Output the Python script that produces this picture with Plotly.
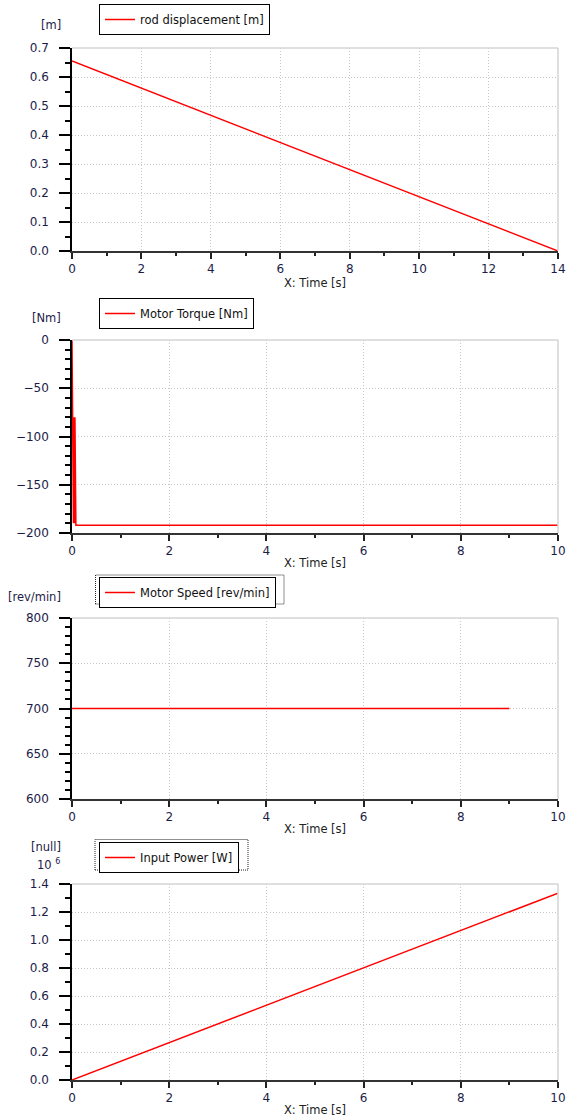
import plotly.graph_objects as go

W, H = 566, 1118

# ---- data ----
rod_t = [0, 14]
rod_disp = [0.655, 0.0]

torque_t = [0, 0.02, 0.03, 0.04, 0.045, 0.05, 0.055, 0.06, 0.065, 0.07, 0.075, 0.08, 10]
torque_v = [0, -185, -190, -80, -190, -80, -190, -80, -190, -80, -192, -192, -192]

speed_t = [0, 9]
speed_v = [700, 700]

power_t = [0, 10]
power_w = [0, 1.335e6]
power_scaled = [p / 1e6 for p in power_w]

names = ["rod displacement [m]", "Motor Torque [Nm]", "Motor Speed [rev/min]", "Input Power [W]"]
units = ["[m]", "[Nm]", "[rev/min]", "[null]"]
x_title = "X: Time [s]"

# ---- layout helpers (pixel -> paper) ----
def px(x):
    return x / W

def py(y):
    return 1 - y / H

panels = [(48, 251), (340, 533), (618, 799), (884, 1080)]  # (top px, bottom px)
x_left, x_right = 72, 558

FONT = "DejaVu Sans"
TXT = "#1c1c48"
RED = "#ff0000"
GRID = "#c8c8c8"
DOTS = "1px,2px"

fig = go.Figure()
series = [(rod_t, rod_disp), (torque_t, torque_v), (speed_t, speed_v), (power_t, power_scaled)]
for i, (xs, ys) in enumerate(series):
    sfx = "" if i == 0 else str(i + 1)
    fig.add_trace(go.Scatter(
        x=xs, y=ys, mode="lines", name=names[i],
        line=dict(color=RED, width=1.5),
        xaxis="x" + sfx, yaxis="y" + sfx,
        legend="legend" + sfx, showlegend=True,
    ))

x_ranges = [[0, 14], [0, 10], [0, 10], [0, 10]]
y_cfg = [
    dict(range=[0, 0.7], dtick=0.1, minor_dtick=0.05, tickformat=".1f"),
    dict(range=[-200, 0], dtick=50, minor_dtick=10, tickformat="d"),
    dict(range=[600, 800], dtick=50, minor_dtick=10, tickformat="d"),
    dict(range=[0, 1.4], dtick=0.2, minor_dtick=0.1, tickformat=".1f"),
]

layout = dict(
    width=W, height=H,
    margin=dict(l=0, r=0, t=0, b=0, autoexpand=False),
    paper_bgcolor="white", plot_bgcolor="white",
    font=dict(family=FONT, size=11, color=TXT),
    shapes=[], annotations=[],
)

legend_tops = [4, 298, 577, 842]
for i in range(4):
    sfx = "" if i == 0 else str(i + 1)
    top, bot = panels[i]
    layout["xaxis" + sfx] = dict(
        domain=[px(x_left), px(x_right)], anchor="y" + sfx, automargin=False,
        range=x_ranges[i], dtick=2, tick0=0,
        ticks="outside", ticklen=6, tickwidth=1.5, tickcolor="#222",
        minor=dict(dtick=1, ticks="outside", ticklen=3, tickwidth=1.5, tickcolor="#222", showgrid=False),
        showline=True, linecolor="#333", linewidth=1.5,
        showgrid=True, gridcolor=GRID, griddash=DOTS, gridwidth=1, zeroline=False,
        tickfont=dict(family=FONT, size=12, color=TXT),
        title=dict(text=x_title, standoff=2, font=dict(family=FONT, size=11.5, color="#222")),
    )
    yc = y_cfg[i]
    layout["yaxis" + sfx] = dict(
        domain=[py(bot), py(top)], anchor="x" + sfx, automargin=False,
        range=yc["range"], dtick=yc["dtick"], tick0=0, tickformat=yc["tickformat"],
        ticks="outside", ticklen=11, tickwidth=1.5, tickcolor="black",
        minor=dict(dtick=yc["minor_dtick"], ticks="outside", ticklen=5, tickwidth=1.5, tickcolor="black", showgrid=False),
        showline=True, linecolor="black", linewidth=1.5,
        showgrid=True, gridcolor=GRID, griddash=DOTS, gridwidth=1, zeroline=False,
        ticklabelstandoff=8,
        tickfont=dict(family=FONT, size=12, color=TXT),
    )
    layout["legend" + sfx] = dict(
        x=px(99), y=py(legend_tops[i]), xanchor="left", yanchor="top",
        bordercolor="black", borderwidth=1, bgcolor="white",
        font=dict(family=FONT, size=11.5, color="#111"), itemwidth=30,
    )
    # light top / right border of plot area
    for (x0, x1, y0, y1) in [(0, 1, 1, 1), (1, 1, 0, 1)]:
        layout["shapes"].append(dict(
            type="line", xref="x" + sfx + " domain", yref="y" + sfx + " domain",
            x0=x0, x1=x1, y0=y0, y1=y1, line=dict(color="#d4d4d4", width=1.5),
        ))

# dotted outer frames around legends 3 and 4
for (l, t, r, b) in [(95.5, 575, 284, 604), (95, 839.5, 248, 870)]:
    layout["shapes"].append(dict(
        type="rect", xref="paper", yref="paper",
        x0=px(l), x1=px(r), y0=py(b), y1=py(t),
        line=dict(color="#222", width=1, dash="1px,1px"),
    ))

# unit labels
unit_y = [25, 318, 597, 847]
for u, yy in zip(units, unit_y):
    layout["annotations"].append(dict(
        text=u, xref="paper", yref="paper", x=px(63), y=py(yy),
        xanchor="right", yanchor="middle", showarrow=False,
        font=dict(family=FONT, size=11.5, color=TXT),
    ))
layout["annotations"].append(dict(
    text="10 <sup>6</sup>", xref="paper", yref="paper", x=px(62), y=py(864),
    xanchor="right", yanchor="middle", showarrow=False,
    font=dict(family=FONT, size=11.5, color=TXT),
))

fig.update_layout(**layout)
fig.write_html(
    "out.html",
    config={"displayModeBar": False},
    post_script="document.body.style.margin='0';document.body.style.overflow='hidden';",
)
